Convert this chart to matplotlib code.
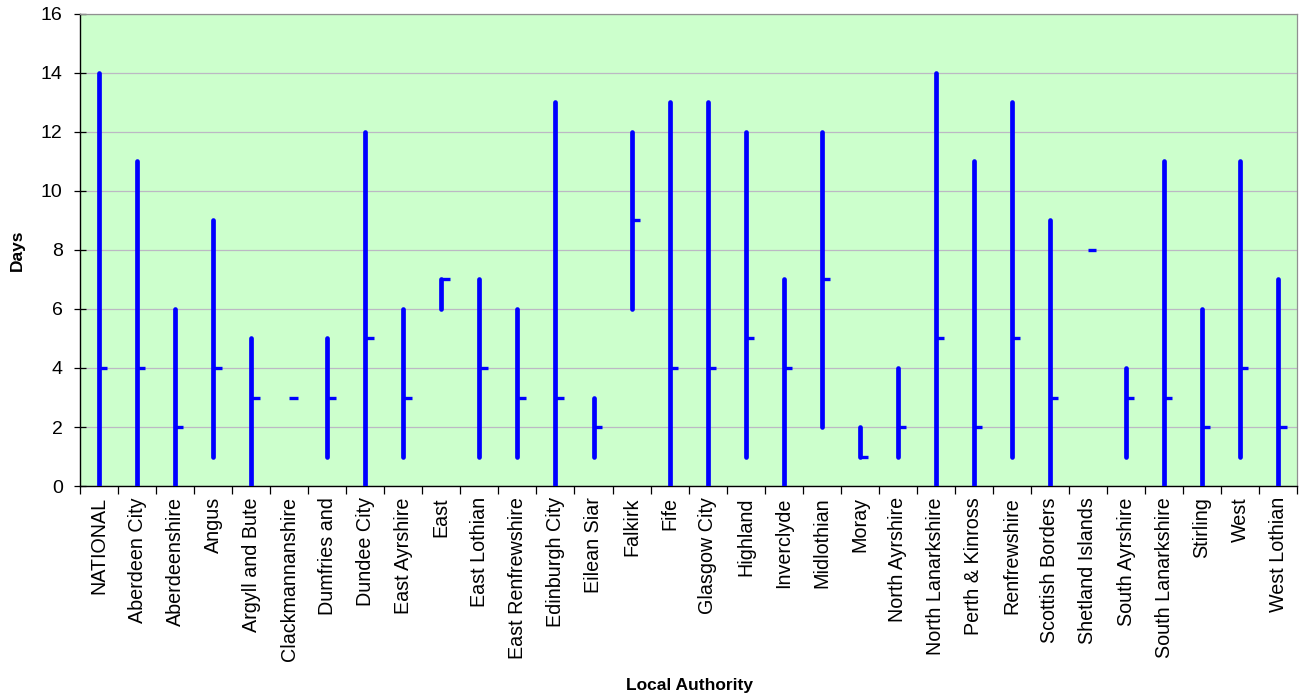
import numpy as np
import matplotlib.pyplot as plt

plt.rcParams['font.family'] = ['Liberation Sans', 'DejaVu Sans']

authorities = ['NATIONAL', 'Aberdeen City', 'Aberdeenshire', 'Angus', 'Argyll and Bute',
               'Clackmannanshire', 'Dumfries and', 'Dundee City', 'East Ayrshire', 'East',
               'East Lothian', 'East Renfrewshire', 'Edinburgh City', 'Eilean Siar', 'Falkirk',
               'Fife', 'Glasgow City', 'Highland', 'Inverclyde', 'Midlothian', 'Moray',
               'North Ayrshire', 'North Lanarkshire', 'Perth & Kinross', 'Renfrewshire',
               'Scottish Borders', 'Shetland Islands', 'South Ayrshire', 'South Lanarkshire',
               'Stirling', 'West', 'West Lothian']
high = [14, 11, 6, 9, 5, 3, 5, 12, 6, 7, 7, 6, 13, 3, 12,
        13, 13, 12, 7, 12, 2, 4, 14, 11, 13, 9, 8, 4, 11, 6, 11, 7]
low = [0, 0, 0, 1, 0, 3, 1, 0, 1, 6, 1, 1, 0, 1, 6,
       0, 0, 1, 0, 2, 1, 1, 0, 0, 1, 0, 8, 1, 0, 0, 1, 0]
median = [4, 4, 2, 4, 3, 3, 3, 5, 3, 7, 4, 3, 3, 2, 9,
          4, 4, 5, 4, 7, 1, 2, 5, 2, 5, 3, 8, 3, 3, 2, 4, 2]

fig = plt.figure(figsize=(12.99, 6.97), dpi=100)
ax = fig.add_axes([0.0616, 0.3027, 0.937, 0.6773])
ax.set_facecolor('#ccffcc')

x = np.arange(len(authorities))
blue = '#0000ff'
ax.vlines(x, low, high, color=blue, lw=3.4, capstyle='round', zorder=3)
ax.hlines(median, x, x + 0.22, color=blue, lw=2.4, zorder=3)

ax.set_xlim(-0.5, len(authorities) - 0.5)
ax.set_ylim(0, 16)
ax.set_yticks(range(0, 17, 2))
ax.yaxis.grid(True, color='#bcb8c4', lw=0.9)
ax.set_axisbelow(True)

ax.set_xticks(x)
ax.set_xticklabels(authorities, rotation=90, fontsize=14.2)
ax.set_xticks(np.arange(-0.5, len(authorities)), minor=True)
ax.tick_params(axis='x', which='major', length=0, pad=8)
ax.tick_params(axis='x', which='minor', length=6, width=0.9, direction='out')
ax.tick_params(axis='y', labelsize=14, length=9, width=0.9, direction='inout', pad=8)

for side in ['top', 'right']:
    ax.spines[side].set_color('#909090')
    ax.spines[side].set_linewidth(0.9)
for side in ['left', 'bottom']:
    ax.spines[side].set_color('black')
    ax.spines[side].set_linewidth(1.0)

ax.set_ylabel('Days', fontsize=12.5, fontweight='bold')
ax.yaxis.set_label_coords(-0.045, 0.5)
fig.text(0.531, 0.016, 'Local Authority', ha='center', va='center',
         fontsize=12.5, fontweight='bold')

fig.savefig('out.png', dpi=100)
